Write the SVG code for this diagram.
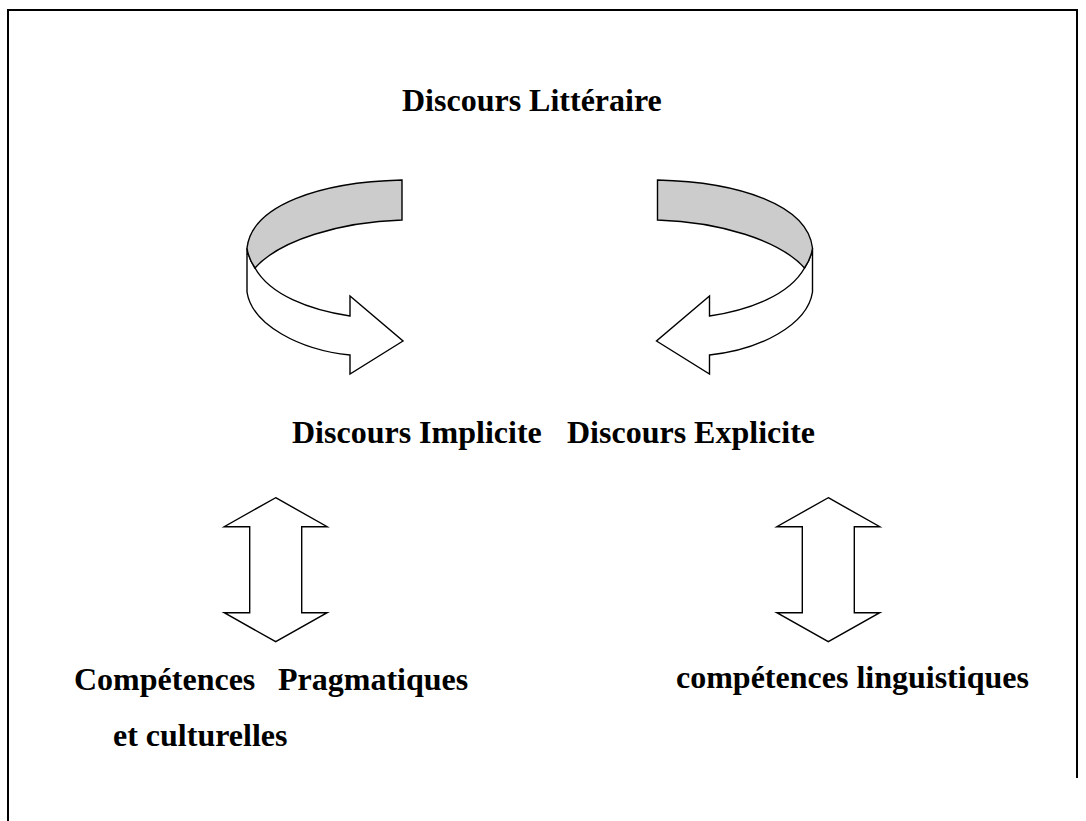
<svg xmlns="http://www.w3.org/2000/svg" width="1086" height="821" viewBox="0 0 1086 821">
<style>
.t{font-family:"Liberation Serif","Times New Roman",serif;font-weight:bold;font-size:32px;fill:#000}
.s{fill:#fff;stroke:#000;stroke-width:1.4;stroke-linejoin:miter}
.g{fill:#cccccc;stroke:#000;stroke-width:1.4}
</style>
<defs>
<g id="curl">
<path class="s" d="M247,248 L247,292 C252,325 300,350 350,355 L350,374 L403,341 L350,296 L350,316 C310,310 270,295 255,268 C251,262 248,256 247,248 Z"/>
<path class="g" d="M402,180 C320,182 252,205 247,248 C248,256 251,262 255,268 C280,240 340,222 402,220 Z"/>
</g>
<path id="dbl" class="s" d="M0,0 L51.5,29 L26,29 L26,115 L51.5,115 L0,144 L-51.5,115 L-26,115 L-26,29 L-51.5,29 Z"/>
</defs>
<rect width="1086" height="821" fill="#fff"/>
<path d="M8,821 L8,10 L1077,10 L1077,778" fill="none" stroke="#000" stroke-width="2"/>
<g id="titre"><text class="t" x="402" y="111">Discours Littéraire</text></g>
<g id="connectors">
<use href="#curl"/>
<use href="#curl" transform="matrix(-1,0,0,1,1059.5,0)"/>
<use href="#dbl" transform="translate(275.7,497.7)"/>
<use href="#dbl" transform="translate(828.3,497.7)"/>
</g>
<g id="implicite"><text class="t" x="292" y="443">Discours Implicite</text></g>
<g id="explicite"><text class="t" x="567" y="443">Discours Explicite</text></g>
<g id="pragmatiques"><text class="t" x="74" y="690">Compétences</text><text class="t" x="278" y="690">Pragmatiques</text><text class="t" x="113" y="746">et culturelles</text></g>
<g id="linguistiques"><text class="t" x="676" y="688">compétences linguistiques</text></g>
</svg>
